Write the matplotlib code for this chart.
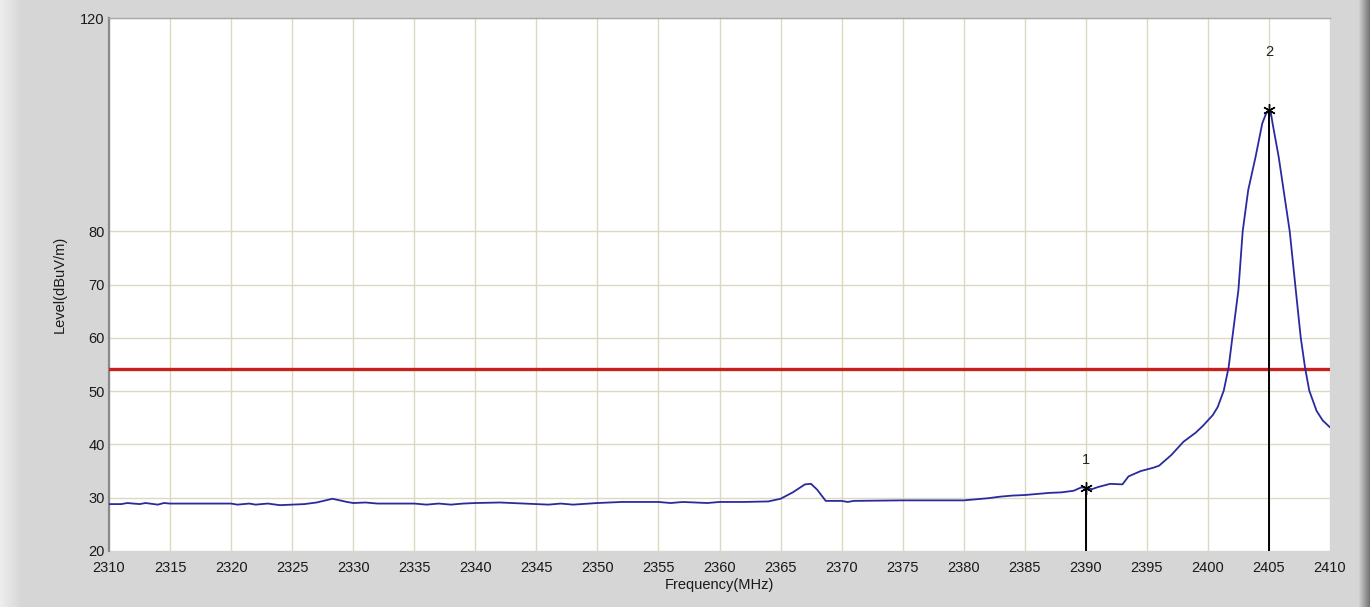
import numpy as np
import matplotlib
matplotlib.use("Agg")
import matplotlib.pyplot as plt

# ---- data ----
freq = [2310, 2311, 2311.5, 2312.5, 2313, 2314, 2314.5, 2315, 2320, 2320.5, 2321.5, 2322,
        2323, 2324, 2325, 2326, 2327, 2328.3, 2329.5, 2330, 2331, 2332, 2335, 2336, 2337,
        2338, 2339, 2340, 2342, 2345, 2346, 2347, 2348, 2350, 2352, 2355, 2356, 2357, 2359,
        2360, 2362, 2364, 2365, 2366, 2367, 2367.5, 2368, 2368.7, 2370, 2370.5, 2371, 2375,
        2378, 2380, 2381, 2382, 2383, 2384, 2385, 2386, 2387, 2388, 2389, 2389.6, 2390,
        2390.5, 2391, 2392, 2393, 2393.5, 2394.5, 2395.5, 2396, 2397, 2398, 2399, 2399.6,
        2400.4, 2400.8, 2401.3, 2401.7, 2402, 2402.5, 2402.85, 2403.3, 2403.9, 2404.45,
        2404.75, 2405, 2405.15, 2405.3, 2405.8, 2406.2, 2406.7, 2407.2, 2407.6, 2407.95,
        2408.3, 2408.9, 2409.4, 2410]
level = [28.8, 28.8, 29.0, 28.8, 29.0, 28.7, 29.0, 28.9, 28.9, 28.7, 28.9, 28.7,
         28.9, 28.6, 28.7, 28.8, 29.1, 29.8, 29.2, 29.0, 29.1, 28.9, 28.9, 28.7, 28.9,
         28.7, 28.9, 29.0, 29.1, 28.8, 28.7, 28.9, 28.7, 29.0, 29.2, 29.2, 29.0, 29.2, 29.0,
         29.2, 29.2, 29.3, 29.8, 31.0, 32.5, 32.6, 31.5, 29.4, 29.4, 29.2, 29.4, 29.5,
         29.5, 29.5, 29.7, 29.9, 30.2, 30.4, 30.5, 30.7, 30.9, 31.0, 31.3, 31.9, 31.9,
         31.6, 32.0, 32.6, 32.5, 34.0, 35.0, 35.6, 36.0, 38.0, 40.5, 42.2, 43.5,
         45.5, 47.0, 50.1, 54.5, 60.0, 69.0, 80.0, 87.7, 93.9, 100.2,
         102.0, 102.7, 102.3, 100.2, 93.9, 87.7, 80.0, 68.9, 60.1, 54.5,
         50.1, 46.3, 44.5, 43.2]
limit_level = 54.2
marker_freq = [2390, 2405]
marker_level = [31.9, 102.7]
marker_labels = ["1", "2"]
x_ticks = list(range(2310, 2411, 5))
y_ticks = [20, 30, 40, 50, 60, 70, 80, 120]

plt.rcParams['font.family'] = ['Liberation Sans', 'DejaVu Sans']

W, H = 1370, 607
fig = plt.figure(figsize=(W / 100, H / 100), dpi=100)
fig.patch.set_facecolor('#d6d6d6')

# right-hand dark bevel strip
bev = fig.add_axes([1358 / W, 0, 12 / W, 1])
bev.imshow(np.linspace(0.85, 0.45, 50).reshape(1, -1), cmap='gray', vmin=0, vmax=1,
           aspect='auto', extent=[0, 1, 0, 1])
bev.axis('off')
# left light bevel strip, blending into the background
bevl = fig.add_axes([0, 0, 22 / W, 1])
bevl.imshow(np.linspace(0.93, 0.84, 50).reshape(1, -1), cmap='gray', vmin=0, vmax=1,
            aspect='auto', extent=[0, 1, 0, 1])
bevl.axis('off')

ax = fig.add_axes([109 / W, 1 - 551 / H, (1330 - 109) / W, (551 - 18) / H])
ax.set_facecolor('white')
ax.set_xlim(2310, 2410)
ax.set_ylim(20, 120)
ax.set_xticks(x_ticks)
ax.set_yticks(y_ticks)
ax.grid(True, color='#ddd8c0', linewidth=1.0)
ax.set_axisbelow(True)
ax.tick_params(length=0, labelsize=10.5, colors='#1a1a1a')
ax.tick_params(axis='x', pad=7)
ax.tick_params(axis='y', pad=3)
for s in ['right', 'bottom']:
    ax.spines[s].set_visible(False)
ax.spines['left'].set_color('#8a8a8a')
ax.spines['left'].set_linewidth(1.6)
ax.spines['top'].set_color('#a8a8a8')
ax.spines['top'].set_linewidth(1.0)

ax.axhline(limit_level, color='#c8201c', linewidth=2.4, zorder=3)
ax.plot(freq, level, color='#2a2aa0', linewidth=1.3, zorder=4)

offsets = [20, 42]
for f, lv, lab, off in zip(marker_freq, marker_level, marker_labels, offsets):
    ax.plot([f, f], [20, lv], color='black', linewidth=1.4, zorder=5)
    ax.plot([f], [lv], marker=(6, 2, 0), markersize=9, color='black', mew=1.0, zorder=6)
    ax.annotate(lab, (f, lv), xytext=(0, off), textcoords='offset points',
                ha='center', va='center', fontsize=10.5, color='#222222')

ax.set_xlabel('Frequency(MHz)', fontsize=10.5, color='#1a1a1a', labelpad=2)
ax.set_ylabel('Level(dBuV/m)', fontsize=10.5, color='#1a1a1a', labelpad=10)

fig.savefig('out.png', dpi=100, facecolor=fig.get_facecolor())
